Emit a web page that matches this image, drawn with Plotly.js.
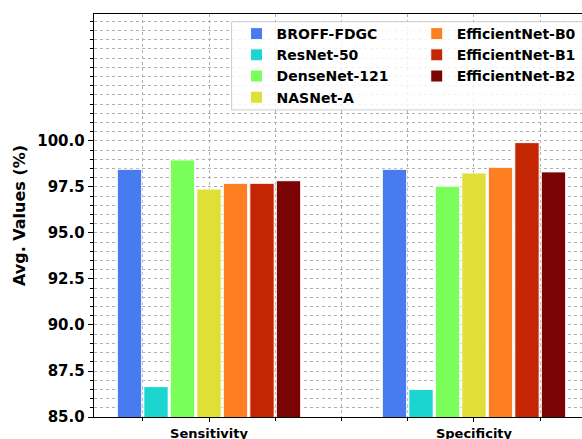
<!DOCTYPE html>
<html>
<head>
<meta charset="utf-8">
<script src="https://cdn.plot.ly/plotly-3.0.1.min.js"></script>
<style>
html, body { margin:0; padding:0; overflow:hidden; background:#fff; }
#chart { width:620px; height:439px; }
</style>
</head>
<body>
<div id="chart"></div>
<script>
// ---- data ----
const categories = ["Sensitivity", "Specificity"];
const categoryPositions = [0, 1];
const models = ["BROFF-FDGC", "ResNet-50", "DenseNet-121", "NASNet-A", "EfficientNet-B0", "EfficientNet-B1", "EfficientNet-B2"];
const broff = [98.46, 98.46];
const resnet50 = [86.65, 86.5];
const densenet121 = [98.97, 97.54];
const nasnetA = [97.39, 98.26];
const effB0 = [97.70, 98.57];
const effB1 = [97.70, 99.91];
const effB2 = [97.84, 98.32];
const yTickVals = [85, 87.5, 90, 92.5, 95, 97.5, 100];
const yTickText = ["85.0", "87.5", "90.0", "92.5", "95.0", "97.5", "100.0"];

const seriesValues = [broff, resnet50, densenet121, nasnetA, effB0, effB1, effB2];
const colors = ["#477bef", "#1bd6d0", "#79fe5a", "#e0df38", "#fd7f22", "#c42503", "#7a0403"];
const legendOf = ["legend", "legend", "legend", "legend", "legend2", "legend2", "legend2"];

const font = "DejaVu Sans, sans-serif";

const traces = models.map((m, i) => ({
  type: "bar",
  name: m,
  x: categoryPositions,
  y: seriesValues[i],
  base: 0,
  marker: { color: colors[i], line: { color: "#ffffff", width: 1 } },
  legend: legendOf[i],
  hoverinfo: "name+y"
}));

const layout = {
  width: 620,
  height: 439,
  margin: { l: 94, r: 31, t: 14, b: 22, pad: 0 },
  paper_bgcolor: "#ffffff",
  plot_bgcolor: "#ffffff",
  font: { family: font, color: "#000000" },
  barmode: "group",
  bargap: 0.3,
  bargroupgap: 0.08,
  showlegend: true,
  xaxis: {
    range: [-0.434, 1.434],
    tickmode: "array",
    tickvals: categoryPositions,
    ticktext: categories,
    tickfont: { family: font, size: 13, weight: "bold", color: "#000" },
    ticks: "outside",
    ticklen: 4,
    tickwidth: 1,
    tickcolor: "#000",
    showline: true,
    linecolor: "#000",
    linewidth: 1.3,
    mirror: true,
    showgrid: true,
    gridcolor: "#b0b0b0",
    griddash: "dot",
    gridwidth: 1,
    zeroline: false,
    minor: {
      tickmode: "linear",
      tick0: 0,
      dtick: 0.25,
      ticks: "outside",
      ticklen: 3,
      tickcolor: "#000",
      showgrid: true,
      gridcolor: "#b0b0b0",
      griddash: "dot",
      gridwidth: 1
    }
  },
  yaxis: {
    range: [85, 106.9],
    tickmode: "array",
    tickvals: yTickVals,
    ticktext: yTickText,
    tickfont: { family: font, size: 15, weight: "bold", color: "#000" },
    ticks: "outside",
    ticklen: 5,
    tickwidth: 1,
    tickcolor: "#000",
    showline: true,
    linecolor: "#000",
    linewidth: 1.3,
    mirror: true,
    showgrid: true,
    gridcolor: "#b0b0b0",
    griddash: "dot",
    gridwidth: 1,
    zeroline: false,
    title: { text: "Avg. Values (%)", font: { family: font, size: 16, weight: "bold", color: "#000" }, standoff: 7 },
    minor: {
      tickmode: "linear",
      tick0: 85,
      dtick: 0.5,
      ticks: "outside",
      ticklen: 3,
      tickcolor: "#000",
      showgrid: true,
      gridcolor: "#b0b0b0",
      griddash: "dot",
      gridwidth: 1
    }
  },
  legend: {
    x: 0.288, y: 0.99, xanchor: "left", yanchor: "top",
    bgcolor: "rgba(0,0,0,0)", borderwidth: 0,
    font: { family: font, size: 14, weight: "bold", color: "#000" },
    tracegroupgap: 0, orientation: "v"
  },
  legend2: {
    x: 0.652, y: 0.99, xanchor: "left", yanchor: "top",
    bgcolor: "rgba(0,0,0,0)", borderwidth: 0,
    font: { family: font, size: 14, weight: "bold", color: "#000" },
    tracegroupgap: 0, orientation: "v"
  },
  shapes: [{
    type: "rect", xref: "paper", yref: "paper",
    x0: 0.278, x1: 0.988, y0: 0.762, y1: 0.981,
    line: { color: "#cccccc", width: 1 },
    fillcolor: "rgba(255,255,255,0.85)",
    layer: "above"
  }]
};

Plotly.newPlot("chart", traces, layout, { displayModeBar: false, staticPlot: true });
</script>
</body>
</html>
